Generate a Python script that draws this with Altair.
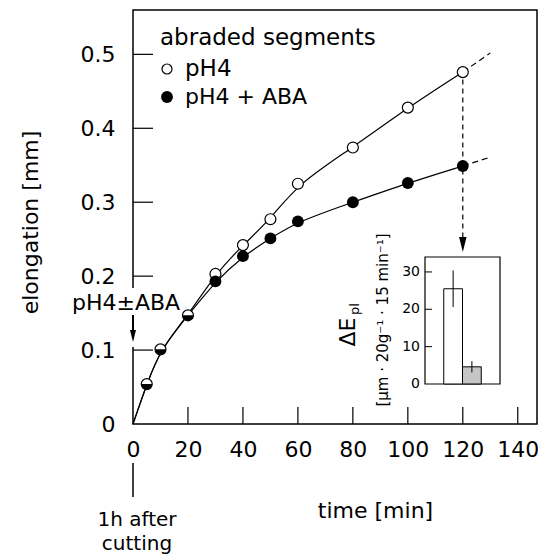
import altair as alt
import pandas as pd

# ---------------- data ----------------
time = [5, 10, 20, 30, 40, 50, 60, 80, 100, 120]
ph4 = [0.054, 0.101, 0.147, 0.203, 0.242, 0.277, 0.325, 0.374, 0.428, 0.476]
ph4_aba = [0.054, 0.101, 0.147, 0.193, 0.227, 0.251, 0.274, 0.300, 0.326, 0.349]
n_shared = 3  # first points coincide (half-filled symbols)

ext_time = [120, 130]
ext_ph4 = [0.476, 0.502]
ext_aba = [0.349, 0.361]

x_ticks = [20, 40, 60, 80, 100, 120, 140]
x_labels = [0, 20, 40, 60, 80, 100, 120, 140]
y_ticks = [0.1, 0.2, 0.3, 0.4, 0.5]
y_labels = [0, 0.1, 0.2, 0.3, 0.4, 0.5]

inset_cat = ["pH4", "pH4 + ABA"]
inset_val = [25.5, 4.6]
inset_err = [4.9, 1.5]
inset_ticks = [0, 10, 20, 30]

FONT = "DejaVu Sans"
W, H = 404, 414

# ---------------- tables ----------------
curve = pd.DataFrame({
    "time": [0] + time + [0] + time,
    "value": [0] + ph4 + [0] + ph4_aba,
    "series": ["pH4"] * (len(time) + 1) + ["pH4 + ABA"] * (len(time) + 1),
})
pts_open = pd.DataFrame({"time": time, "value": ph4})
pts_fill = pd.DataFrame({"time": time[n_shared:], "value": ph4_aba[n_shared:]})
pts_half = pd.DataFrame({"time": time[:n_shared], "value": ph4_aba[:n_shared]})
ext = pd.DataFrame({
    "time": ext_time + ext_time,
    "value": ext_ph4 + ext_aba,
    "series": ["pH4"] * 2 + ["pH4 + ABA"] * 2,
})
xt = pd.DataFrame({"t": x_ticks})
yt = pd.DataFrame({"t": y_ticks})
one = pd.DataFrame({"a": [0]})

xs = alt.Scale(domain=[0, 147], nice=False, zero=False)
ys = alt.Scale(domain=[0, 0.56], nice=False, zero=False)

X = lambda f: alt.X(f, type="quantitative", scale=xs, axis=None)
Y = lambda f: alt.Y(f, type="quantitative", scale=ys, axis=None)

axis_layer = alt.Chart(one).mark_point(opacity=0).encode(
    x=alt.X("a:Q", scale=xs, axis=alt.Axis(
        values=x_labels, title="time [min]", titleX=242, titleY=86,
        titleAlign="center", titleBaseline="middle", labelPadding=15,
        format="d", labelOverlap=False, labelFlush=False, orient="bottom")),
    y=alt.Y("a:Q", scale=ys, axis=alt.Axis(
        values=y_labels, title="elongation [mm]", titleX=-103, titleY=212,
        titleAlign="center", titleBaseline="middle", titleAngle=270,
        labelPadding=18, format="~g", labelOverlap=False, labelFlush=False,
        orient="left")),
)

xtick_layer = alt.Chart(xt).mark_rule(color="black", strokeWidth=1.2).encode(
    x=X("t"), y=alt.value(H), y2=alt.value(H - 17))
ytick_layer = alt.Chart(yt).mark_rule(color="black", strokeWidth=1.2).encode(
    y=Y("t"), x=alt.value(0), x2=alt.value(20))

curves = alt.Chart(curve).mark_line(
    interpolate="basis", color="black", strokeWidth=1.2).encode(
    x=X("time"), y=Y("value"), detail="series:N")
exts = alt.Chart(ext).mark_line(
    color="black", strokeWidth=1.2, strokeDash=[6, 4]).encode(
    x=X("time"), y=Y("value"), detail="series:N")

# dashed arrow from the 120-min point down to the inset
arrow_rule = alt.Chart(one).mark_rule(
    color="black", strokeWidth=1.2, strokeDash=[5, 4]).encode(
    x=alt.X(datum=120, scale=xs, axis=None),
    y=alt.Y(datum=0.466, scale=ys, axis=None),
    y2=alt.value(236))
ARROW = "M -0.5 -1 L 0.5 -1 L 0 1 Z"
arrow_head = alt.Chart(one).mark_point(
    shape=ARROW, filled=True, color="black", size=225, opacity=1).encode(
    x=alt.X(datum=120, scale=xs, axis=None), y=alt.value(234.5))

# the y axis line is interrupted where the treatment arrow sits
axis_gap = alt.Chart(one).mark_rule(color="white", strokeWidth=3).encode(
    x=alt.X(datum=0, scale=xs, axis=None), y=alt.value(278), y2=alt.value(337))
app_rule = alt.Chart(one).mark_rule(color="black", strokeWidth=2).encode(
    x=alt.X(datum=0, scale=xs, axis=None), y=alt.value(305), y2=alt.value(324))
app_head = alt.Chart(one).mark_point(
    shape=ARROW, filled=True, color="black", size=144, opacity=1).encode(
    x=alt.X(datum=0, scale=xs, axis=None), y=alt.value(326))
cut_rule = alt.Chart(one).mark_rule(color="black", strokeWidth=1.5).encode(
    x=alt.X(datum=0, scale=xs, axis=None), y=alt.value(453), y2=alt.value(487))

open_pts = alt.Chart(pts_open).mark_point(
    shape="circle", filled=True, fill="white", stroke="black",
    strokeWidth=1.2, size=120, opacity=1).encode(x=X("time"), y=Y("value"))
fill_pts = alt.Chart(pts_fill).mark_point(
    shape="circle", filled=True, color="black", size=140, opacity=1).encode(
    x=X("time"), y=Y("value"))
HALF = "M -1 0 A 1 1 0 0 0 1 0 Z"
half_pts = alt.Chart(pts_half).mark_point(
    shape=HALF, filled=True, color="black", size=120, opacity=1).encode(
    x=X("time"), y=Y("value"))


def label(txt, px, py, size=23, align="left", baseline="alphabetic", angle=0):
    return alt.Chart(one).mark_text(
        text=txt, font=FONT, fontSize=size, align=align, baseline=baseline,
        angle=angle, color="black").encode(x=alt.value(px), y=alt.value(py))


legend_title = label("abraded segments", 27, 35)
leg_open = alt.Chart(one).mark_point(
    shape="circle", filled=True, fill="white", stroke="black",
    strokeWidth=1.2, size=100, opacity=1).encode(x=alt.value(34), y=alt.value(59))
leg_fill = alt.Chart(one).mark_point(
    shape="circle", filled=True, color="black", size=140, opacity=1).encode(
    x=alt.value(34), y=alt.value(87))
leg_t1 = label("pH4", 52, 66)
leg_t2 = label("pH4 + ABA", 52, 94, size=22)
app_text = label("pH4±ABA", -7, 300, size=22, align="center")
cut1 = label("1h after", 4, 516, size=20, align="center")
cut2 = label("cutting", 4, 540, size=20, align="center")

# ---------------- inset ----------------
inset_df = pd.DataFrame({
    "cat": inset_cat,
    "val": inset_val,
    "lo": [v - e for v, e in zip(inset_val, inset_err)],
    "hi": [v + e for v, e in zip(inset_val, inset_err)],
})
it = pd.DataFrame({"t": inset_ticks, "lab": [str(v) for v in inset_ticks]})

IX0, IX1, IY0, IY1 = 292, 367, 374, 247
ixs = alt.Scale(domain=inset_cat, range=[IX0, IX1], paddingInner=0, paddingOuter=1)
iys = alt.Scale(domain=[0, 34], range=[IY0, IY1], nice=False, zero=False)

inset_frame = alt.Chart(one).mark_rect(
    fillOpacity=0, stroke="black", strokeWidth=1.2).encode(
    x=alt.value(IX0), x2=alt.value(IX1), y=alt.value(IY1), y2=alt.value(IY0))
inset_bars = alt.Chart(inset_df).mark_bar(stroke="black", strokeWidth=1).encode(
    x=alt.X("cat:N", scale=ixs, axis=None),
    y=alt.Y("val:Q", scale=iys, axis=None),
    fill=alt.Fill("cat:N", scale=alt.Scale(domain=inset_cat, range=["white", "#c6c6c6"]),
                  legend=None),
)
inset_err_rules = alt.Chart(inset_df).mark_rule(color="black", strokeWidth=1).encode(
    x=alt.X("cat:N", scale=ixs, axis=None),
    y=alt.Y("lo:Q", scale=iys, axis=None), y2="hi:Q")
inset_tick_rules = alt.Chart(it[it.t > 0]).mark_rule(color="black", strokeWidth=1).encode(
    y=alt.Y("t:Q", scale=iys, axis=None), x=alt.value(IX0), x2=alt.value(IX0 + 7))
inset_tick_text = alt.Chart(it).mark_text(
    font=FONT, fontSize=14, align="right", baseline="middle", color="black").encode(
    y=alt.Y("t:Q", scale=iys, axis=None), x=alt.value(IX0 - 5), text="lab:N")
inset_lab1 = label("ΔE", 215, 322, size=22, align="center", baseline="middle", angle=270)
inset_lab2 = label("pl", 222, 299, size=13, align="center", baseline="middle", angle=270)
inset_lab3 = label("[μm · 20g⁻¹ · 15 min⁻¹]", 250, 310, size=15,
                   align="center", baseline="middle", angle=270)

chart = alt.layer(
    axis_layer, xtick_layer, ytick_layer, curves, exts, arrow_rule, arrow_head,
    axis_gap, app_rule, app_head, cut_rule, open_pts, fill_pts, half_pts,
    legend_title, leg_open, leg_fill, leg_t1, leg_t2, app_text, cut1, cut2,
    inset_frame, inset_bars, inset_err_rules, inset_tick_rules,
    inset_tick_text, inset_lab1, inset_lab2, inset_lab3,
).resolve_scale(
    x="independent", y="independent"
).properties(
    width=W, height=H,
    autosize=alt.AutoSizeParams(type="none"),
    padding={"left": 133, "top": 10, "right": 1, "bottom": 133},
).configure_view(
    stroke="black", strokeWidth=1.5
).configure_axis(
    domain=False, ticks=False, grid=False,
    labelFont=FONT, labelFontSize=22, labelColor="black",
    titleFont=FONT, titleFontSize=22, titleFontWeight="normal", titleColor="black",
)

chart.save("out.html", embed_options={"renderer": "svg", "actions": False})
